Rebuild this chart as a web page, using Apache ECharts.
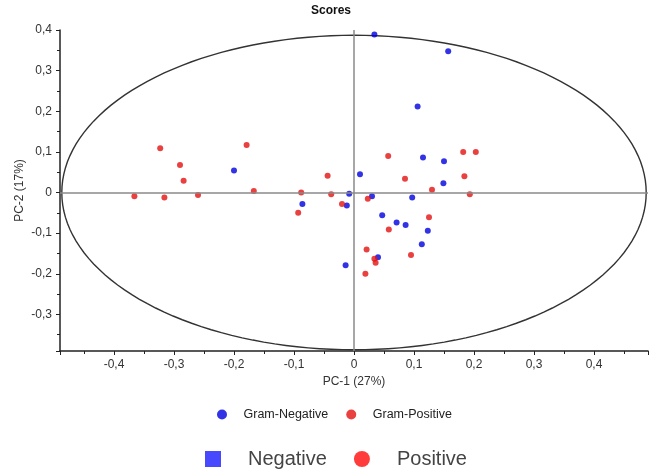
<!DOCTYPE html>
<html>
<head>
<meta charset="utf-8">
<script src="https://cdn.jsdelivr.net/npm/echarts@6/dist/echarts.min.js"></script>
<style>
    html, body { margin: 0; padding: 0; background: #fff; }
    #scores { width: 656px; height: 475px; }
</style>
</head>
<body>
<div id="scores"></div>
<script>
// PC-1 / PC-2 score values
var negX = [0.034, 0.157, 0.106, -0.200, 0.010, -0.008, 0.030, -0.086, -0.012, 0.047,
            0.040, -0.014, 0.115, 0.150, 0.149, 0.097, 0.071, 0.086, 0.123, 0.113];
var negY = [0.389, 0.348, 0.212, 0.054, 0.045, -0.003, -0.009, -0.028, -0.032, -0.056,
            -0.159, -0.179, 0.086, 0.077, 0.023, -0.012, -0.074, -0.080, -0.094, -0.127];

var posX = [-0.323, -0.179, -0.290, -0.284, -0.167, -0.366, -0.316, -0.260, 0.057, -0.044,
            -0.088, -0.038, 0.023, -0.020, -0.093, 0.058, 0.021, 0.034, 0.036, 0.019,
            0.182, 0.203, 0.085, 0.184, 0.130, 0.193, 0.125, 0.095];
var posY = [0.109, 0.117, 0.068, 0.029, 0.004, -0.009, -0.012, -0.006, 0.090, 0.041,
            0.000, -0.004, -0.015, -0.028, -0.050, -0.091, -0.140, -0.163, -0.173, -0.200,
            0.100, 0.100, 0.034, 0.040, 0.007, -0.004, -0.061, -0.154];

// Hotelling ellipse: centre and radii (in axis units)
var ellipseCenter = [0, 0];
var ellipseRadii = [0.487, 0.387];

var xRange = [-0.49, 0.49];
var yRange = [-0.39, 0.4];

function pairs(xs, ys) {
    var out = [];
    for (var i = 0; i < xs.length; i++) {
        out.push([xs[i], ys[i]]);
    }
    return out;
}

function commaLabel(value) {
    if (Math.abs(value) < 1e-9) return '0';
    return value.toFixed(1).replace('.', ',');
}

var myChart = echarts.init(document.getElementById('scores'));

var axisFont = { color: '#333', fontSize: 12, fontFamily: 'Liberation Sans' };

var option = {
    animation: false,
    title: {
        text: 'Scores',
        left: 326,
        textAlign: 'center',
        top: 0,
        textStyle: { fontSize: 12, fontWeight: 'bold', color: '#111', fontFamily: 'Liberation Sans' }
    },
    grid: { left: 60, right: 8, top: 30, bottom: 124 },
    legend: [
        {
            data: ['Gram-Negative', 'Gram-Positive'],
            left: 212,
            top: 403,
            itemWidth: 33,
            itemHeight: 10,
            itemGap: 18,
            icon: 'circle',
            textStyle: { fontSize: 12.5, color: '#222', fontFamily: 'Liberation Sans' }
        },
        {
            data: [
                { name: 'Negative', icon: 'path://M0,0H10V10H0Z' },
                { name: 'Positive', icon: 'circle' }
            ],
            left: 200,
            top: 444,
            itemWidth: 60,
            itemHeight: 16,
            itemGap: 27,
            textStyle: { fontSize: 20, color: '#444', fontFamily: 'Liberation Sans' }
        }
    ],
    xAxis: {
        type: 'value',
        min: xRange[0],
        max: xRange[1],
        splitNumber: 10,
        name: 'PC-1 (27%)',
        nameLocation: 'middle',
        nameGap: 25,
        nameTextStyle: axisFont,
        splitLine: { show: false },
        axisLine: { onZero: false, lineStyle: { color: '#222', width: 1.5 } },
        axisTick: { length: 4, lineStyle: { color: '#222' } },
        minorTick: { show: true, splitNumber: 2, length: 3, lineStyle: { color: '#222' } },
        axisLabel: {
            showMinLabel: false,
            showMaxLabel: false,
            formatter: commaLabel,
            color: '#333', fontSize: 12, fontFamily: 'Liberation Sans'
        }
    },
    yAxis: {
        type: 'value',
        min: yRange[0],
        max: yRange[1],
        splitNumber: 8,
        name: 'PC-2 (17%)',
        nameLocation: 'middle',
        nameGap: 34,
        nameMoveOverlap: false,
        nameTextStyle: axisFont,
        splitLine: { show: false },
        axisLine: { onZero: false, lineStyle: { color: '#222', width: 1.5 } },
        axisTick: { length: 4, lineStyle: { color: '#222' } },
        minorTick: { show: true, splitNumber: 2, length: 3, lineStyle: { color: '#222' } },
        axisLabel: {
            showMinLabel: false,
            formatter: commaLabel,
            color: '#333', fontSize: 12, fontFamily: 'Liberation Sans'
        }
    },
    series: [
        {
            // confidence ellipse
            type: 'custom',
            silent: true,
            clip: false,
            z: 1,
            data: [[ellipseCenter[0], ellipseCenter[1], ellipseRadii[0], ellipseRadii[1]]],
            encode: { x: 0, y: 1 },
            renderItem: function (params, api) {
                var c = api.coord([api.value(0), api.value(1)]);
                var s = api.size([api.value(2), api.value(3)]);
                var pts = [];
                for (var i = 0; i <= 160; i++) {
                    var a = i / 160 * 2 * Math.PI;
                    pts.push([c[0] + s[0] * Math.cos(a), c[1] + s[1] * Math.sin(a)]);
                }
                return {
                    type: 'polyline',
                    shape: { points: pts },
                    style: { stroke: '#333', fill: 'none', lineWidth: 1.4 }
                };
            }
        },
        {
            name: 'Gram-Negative',
            type: 'scatter',
            symbolSize: 6,
            itemStyle: { color: '#0000e0' },
            z: 3,
            data: pairs(negX, negY),
            markLine: {
                silent: true,
                symbol: 'none',
                label: { show: false },
                lineStyle: { color: '#8a8a8a', width: 1.5, type: 'solid' },
                data: [{ xAxis: 0 }, { yAxis: 0 }]
            }
        },
        {
            name: 'Gram-Positive',
            type: 'scatter',
            symbolSize: 6,
            itemStyle: { color: '#e41010' },
            z: 3,
            data: pairs(posX, posY)
        },
        {
            // second (image-style) legend entries
            name: 'Negative',
            type: 'scatter',
            itemStyle: { color: '#1a1aff' },
            data: []
        },
        {
            name: 'Positive',
            type: 'scatter',
            itemStyle: { color: '#ff0a0a' },
            data: []
        }
    ]
};

myChart.setOption(option);
</script>
</body>
</html>
